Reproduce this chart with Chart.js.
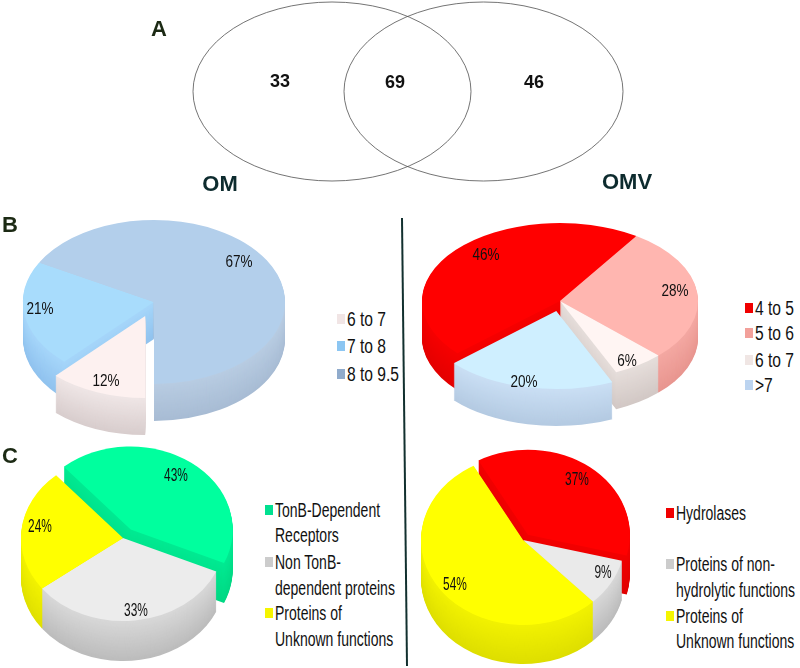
<!DOCTYPE html>
<html>
<head>
<meta charset="utf-8">
<script src="https://cdn.jsdelivr.net/npm/chart.js@4"></script>
<style>
html, body { margin: 0; padding: 0; background: #fff; }
#page { position: relative; width: 800px; height: 668px; overflow: hidden; background: #fff; }
#page canvas { position: absolute; }
.txt { position: absolute; white-space: nowrap; transform-origin: left center; color: #111; }
.legend { font: 20px "Liberation Sans", sans-serif; }
.head { font: bold 22px "Liberation Sans", sans-serif; color: #1c2a14; transform: translate(-50%, -50%); }
.swatch { position: absolute; width: 8px; height: 10px; }
</style>
</head>
<body>
<div id="page">
  <svg width="800" height="668" style="position:absolute;left:0;top:0">
    <line x1="402" y1="218" x2="407" y2="666" stroke="#12302f" stroke-width="2"/>
  </svg>
</div>
<script>
// Venn counts
const vennLabels = ['OM only', 'Shared', 'OMV only'];
const vennCounts = [33, 69, 46];

// B, pI ranges
const bLeftCategories = ['6 to 7', '7 to 8', '8 to 9.5'];
const bLeftValues = [12, 21, 67];
const bRightCategories = ['4 to 5', '5 to 6', '6 to 7', '>7'];
const bRightValues = [46, 28, 6, 20];

// C, functions
const cLeftCategories = [['TonB-Dependent', 'Receptors'], ['Non TonB-', 'dependent proteins'], ['Proteins of', 'Unknown functions']];
const cLeftValues = [43, 33, 24];
const cRightCategories = [['Hydrolases'], ['Proteins of non-', 'hydrolytic functions'], ['Proteins of', 'Unknown functions']];
const cRightValues = [37, 9, 54];

const page = document.getElementById('page');
const PAD = 30;

function addText(text, x, y, cls, squeeze) {
    const div = document.createElement('div');
    div.className = 'txt ' + cls;
    div.textContent = text;
    div.style.left = x + 'px';
    div.style.top = y + 'px';
    if (squeeze) div.style.transform = 'translateY(-50%) scaleX(' + squeeze + ')';
    page.appendChild(div);
    return div;
}

function addCanvas(left, top, w, h) {
    const canvas = document.createElement('canvas');
    canvas.width = w;
    canvas.height = h;
    canvas.style.left = left + 'px';
    canvas.style.top = top + 'px';
    page.appendChild(canvas);
    return canvas;
}

function mix(a, b, t) {
    const ch = (h, s) => parseInt(h.substr(s, 2), 16);
    const v = s => Math.round(ch(a, s) + (ch(b, s) - ch(a, s)) * t);
    return 'rgb(' + v(1) + ',' + v(3) + ',' + v(5) + ')';
}

// squashes the pie arcs into an ellipse and stacks them up to get the wall
function makePie3d(p) {
    const k = p.ry / p.rx;
    const left = p.cx - p.rx - PAD;
    const top = p.cy - p.rx - PAD;
    return {
        id: 'pie3d',
        beforeDatasetsDraw(chart) {
            const ctx = chart.ctx;
            const arcs = chart.getDatasetMeta(0).data;
            const place = (arc, i, down) => {
                const mid = (arc.startAngle + arc.endAngle) / 2;
                const off = p.explode[i];
                ctx.translate(arc.x + Math.cos(mid) * off, arc.y + Math.sin(mid) * off * k + down);
                ctx.scale(1, k);
                ctx.translate(-arc.x, -arc.y);
            };
            // back slices first
            const order = arcs.map((a, i) => i).sort((a, b) =>
                Math.sin((arcs[a].startAngle + arcs[a].endAngle) / 2) - Math.sin((arcs[b].startAngle + arcs[b].endAngle) / 2));
            order.forEach(i => {
                const arc = arcs[i];
                for (let d = p.depth; d >= 1; d--) {
                    ctx.save();
                    place(arc, i, d);
                    ctx.fillStyle = mix(p.walls[i], p.wallsDark[i], d / p.depth);
                    ctx.beginPath();
                    ctx.moveTo(arc.x, arc.y);
                    ctx.arc(arc.x, arc.y, arc.outerRadius, arc.startAngle, arc.endAngle);
                    ctx.closePath();
                    ctx.fill();
                    ctx.restore();
                }
            });
            arcs.forEach((arc, i) => {
                ctx.save();
                place(arc, i, 0);
                arc.draw(ctx);
                ctx.restore();
            });
            return false;
        },
        afterDraw(chart) {
            const ctx = chart.ctx;
            p.values.forEach((v, i) => {
                ctx.save();
                ctx.translate(p.labelAt[i][0] - left, p.labelAt[i][1] - top);
                ctx.scale(p.labelSqueeze, 1);
                ctx.font = p.labelFont;
                ctx.fillStyle = '#111';
                ctx.textAlign = 'center';
                ctx.textBaseline = 'middle';
                ctx.fillText(v + '%', 0, 0);
                ctx.restore();
            });
        }
    };
}

function addPie(p) {
    const side = 2 * (p.rx + PAD);
    const canvas = addCanvas(p.cx - p.rx - PAD, p.cy - p.rx - PAD, side, side);
    new Chart(canvas, {
        type: 'pie',
        data: {
            labels: p.labels,
            datasets: [{ data: p.values, backgroundColor: p.colors, borderWidth: 0 }]
        },
        options: {
            responsive: false,
            animation: false,
            rotation: p.rotation,
            layout: { padding: PAD },
            plugins: { legend: { display: false }, tooltip: { enabled: false } }
        },
        plugins: [makePie3d(p)]
    });
    // legend next to the pie
    p.labels.forEach((lab, i) => {
        const lines = Array.isArray(lab) ? lab : [lab];
        const sw = document.createElement('div');
        sw.className = 'swatch';
        sw.style.left = p.legendX + 'px';
        sw.style.top = (p.legendY[i][0] - 5) + 'px';
        sw.style.background = p.swatches[i];
        page.appendChild(sw);
        lines.forEach((line, j) => addText(line, p.legendX + 10, p.legendY[i][j], 'legend', p.legendSqueeze));
    });
}

addPie({
    labels: bLeftCategories, values: bLeftValues, rotation: 180,
    cx: 154, cy: 302, rx: 131, ry: 82, depth: 37,
    explode: [24, 0, 0],
    colors: ['#fdf1f0', '#a8dcfc', '#b3cfeb'],
    walls: ['#efe6e6', '#a6d6fa', '#b8cce2'],
    wallsDark: ['#d8cdcd', '#90c2ee', '#a8bcd4'],
    swatches: ['#f1e5e5', '#8cc6f2', '#90abcc'],
    labelAt: [[106, 381], [40, 309], [239, 262]],
    labelFont: '16.5px "Liberation Sans", sans-serif', labelSqueeze: 0.82,
    legendX: 337, legendY: [[319], [346], [374]], legendSqueeze: 0.78
});

addPie({
    labels: bRightCategories, values: bRightValues, rotation: 228,
    cx: 560, cy: 301, rx: 138, ry: 78, depth: 37,
    explode: [0, 0, 0, 18],
    colors: ['#ff0000', '#ffb6b0', '#fff5f3', '#cfefff'],
    walls: ['#f60000', '#f4a8a2', '#e6dedb', '#cadff4'],
    wallsDark: ['#e40000', '#e89690', '#d2c8c5', '#b4cae2'],
    swatches: ['#f00000', '#f2a09a', '#f0e6e4', '#bcd4f0'],
    labelAt: [[486, 255], [675, 291], [627, 361], [524, 382]],
    labelFont: '16.5px "Liberation Sans", sans-serif', labelSqueeze: 0.82,
    legendX: 745, legendY: [[308], [333], [360], [385]], legendSqueeze: 0.78
});

addPie({
    labels: cLeftCategories, values: cLeftValues, rotation: -41,
    cx: 123, cy: 538, rx: 102, ry: 83, depth: 40,
    explode: [13, 0, 0],
    colors: ['#00ff9e', '#ececec', '#ffff00'],
    walls: ['#00ea92', '#d8d8d8', '#f2f200'],
    wallsDark: ['#00d884', '#bcbcbc', '#e0e000'],
    swatches: ['#00e090', '#cccccc', '#f5f500'],
    labelAt: [[176, 476], [136, 611], [40, 527]],
    labelFont: '18px "Liberation Sans", sans-serif', labelSqueeze: 0.66,
    legendX: 265, legendY: [[510, 535], [562, 588], [613, 639]], legendSqueeze: 0.7
});

addPie({
    labels: cRightCategories, values: cRightValues, rotation: -29,
    cx: 523, cy: 540, rx: 102, ry: 85, depth: 39,
    explode: [8, 0, 0],
    colors: ['#ff0000', '#eaeaea', '#ffff00'],
    walls: ['#f20000', '#d8d8d8', '#f2f200'],
    wallsDark: ['#e00000', '#bcbcbc', '#dede00'],
    swatches: ['#f00000', '#cccccc', '#f5f500'],
    labelAt: [[577, 480], [603, 573], [455, 585]],
    labelFont: '18px "Liberation Sans", sans-serif', labelSqueeze: 0.66,
    legendX: 666, legendY: [[513], [564, 590], [616, 641]], legendSqueeze: 0.7
});

// Venn, two bubbles squashed into ellipses
const vennCircles = [{ x: 332, y: 91.5, rx: 139, ry: 89.5 }, { x: 483.5, y: 91.5, rx: 139.5, ry: 89.5 }];
const vennTextAt = [[280, 82], [395, 83], [534, 83]];
const vennPlugin = {
    id: 'venn',
    beforeDatasetDraw(chart, args) {
        const c = vennCircles[args.index];
        const pt = args.meta.data[0];
        chart.ctx.save();
        chart.ctx.translate(pt.x, pt.y);
        chart.ctx.scale(1, c.ry / c.rx);
        chart.ctx.translate(-pt.x, -pt.y);
    },
    afterDatasetDraw(chart) {
        chart.ctx.restore();
    },
    afterDraw(chart) {
        const ctx = chart.ctx;
        ctx.save();
        ctx.font = 'bold 18px "Liberation Sans", sans-serif';
        ctx.fillStyle = '#111';
        ctx.textAlign = 'center';
        ctx.textBaseline = 'middle';
        vennCounts.forEach((v, i) => ctx.fillText(v, vennTextAt[i][0], vennTextAt[i][1]));
        ctx.restore();
    }
};
new Chart(addCanvas(0, 0, 800, 200), {
    type: 'bubble',
    data: {
        datasets: vennCircles.map((c, i) => ({
            label: i ? 'OMV' : 'OM',
            data: [{ x: c.x, y: c.y, r: c.rx }],
            backgroundColor: 'rgba(0,0,0,0)',
            borderColor: '#555',
            borderWidth: 1,
            clip: false
        }))
    },
    options: {
        responsive: false,
        animation: false,
        layout: { padding: 0, autoPadding: false },
        scales: {
            x: { display: false, min: 0, max: 800 },
            y: { display: false, min: 0, max: 200, reverse: true }
        },
        plugins: { legend: { display: false }, tooltip: { enabled: false } }
    },
    plugins: [vennPlugin]
});

// panel letters and set names
addText('A', 159, 29, 'head');
addText('B', 10, 225, 'head');
addText('C', 10, 456, 'head');
addText('OM', 220, 184, 'head').style.color = '#0d2b2e';
addText('OMV', 627, 182, 'head').style.color = '#0d2b2e';
</script>
</body>
</html>
